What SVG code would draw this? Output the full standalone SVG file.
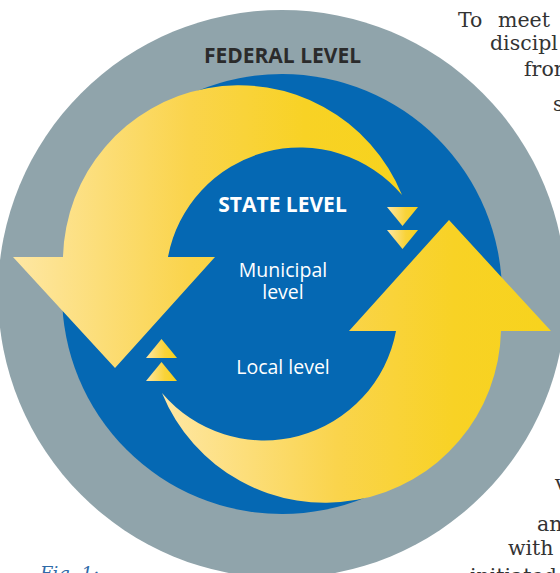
<svg xmlns="http://www.w3.org/2000/svg" width="560" height="573" viewBox="0 0 560 573">
  <defs>
    <linearGradient id="gArrowL" x1="0" y1="0" x2="1" y2="0">
      <stop offset="0" stop-color="#fee7a4"/>
      <stop offset="0.45" stop-color="#fad44c"/>
      <stop offset="0.75" stop-color="#f8d225"/>
      <stop offset="1" stop-color="#f7d31d"/>
    </linearGradient>
    <linearGradient id="gArrowR" x1="1" y1="0" x2="0" y2="0">
      <stop offset="0" stop-color="#fee7a4"/>
      <stop offset="0.45" stop-color="#fad44c"/>
      <stop offset="0.75" stop-color="#f8d225"/>
      <stop offset="1" stop-color="#f7d31d"/>
    </linearGradient>
    <linearGradient id="gTri" x1="0" y1="0" x2="1" y2="0">
      <stop offset="0" stop-color="#fde7a6"/>
      <stop offset="0.6" stop-color="#f9d33a"/>
      <stop offset="1" stop-color="#f7d21c"/>
    </linearGradient>
    <path id="arrowShape" d="M 402,195 A 176 176 0 0 0 63,257 L 13,257 L 115,368 L 215,257 L 168,257 A 134 134 0 0 1 402,195 Z"/>
  </defs>
  <style>
    .lvl { font-family: "Open Sans", "Noto Sans", "DejaVu Sans", sans-serif; text-anchor: middle; }
    .caps { font-weight: 700; font-size: 21px; }
    .small { font-weight: 400; font-size: 19.5px; fill: #ffffff; }
    .page { font-family: "DejaVu Serif", "Liberation Serif", serif; font-size: 20.5px; fill: #333333; }
    .fig { font-family: "DejaVu Serif", "Liberation Serif", serif; font-size: 18px; font-style: italic; fill: #2f6aa8; }
  </style>

  <g id="federal-level">
    <circle cx="282" cy="294" r="284" fill="#90a4ab"/>
    <text class="lvl caps" x="282.5" y="63" fill="#2b2b2b">FEDERAL LEVEL</text>
  </g>

  <g id="state-level">
    <circle cx="282" cy="294" r="220" fill="#0568b3"/>
    <text class="lvl caps" x="282.5" y="212" fill="#ffffff">STATE LEVEL</text>
  </g>

  <g id="connectors">
    <use href="#arrowShape" fill="url(#gArrowL)"/>
    <use href="#arrowShape" fill="url(#gArrowR)" transform="rotate(180 282 294)"/>
    <polygon points="387,207 418,207 402.5,226" fill="url(#gTri)"/>
    <polygon points="387,230 418,230 402.5,249" fill="url(#gTri)"/>
    <polygon points="146,358 177,358 161.5,339" fill="url(#gTri)"/>
    <polygon points="146,381 177,381 161.5,362" fill="url(#gTri)"/>
  </g>

  <g id="municipal-level">
    <text class="lvl small" x="283" y="277">Municipal</text>
    <text class="lvl small" x="283" y="298.5">level</text>
  </g>

  <g id="local-level">
    <text class="lvl small" x="283" y="374">Local level</text>
  </g>

  <g id="page-text">
    <text class="page" x="458" y="27">To</text>
    <text class="page" x="498" y="27">meet</text>
    <text class="page" x="490" y="50">discipl</text>
    <text class="page" x="524" y="76">from</text>
    <text class="page" x="553" y="111">s</text>
    <text class="page" x="555" y="490">v</text>
    <text class="page" x="537" y="531">an</text>
    <text class="page" x="508" y="555">with</text>
    <text class="page" x="470" y="583">initiated by</text>
    <text class="fig" x="40" y="580">Fig. 1:</text>
  </g>
</svg>
